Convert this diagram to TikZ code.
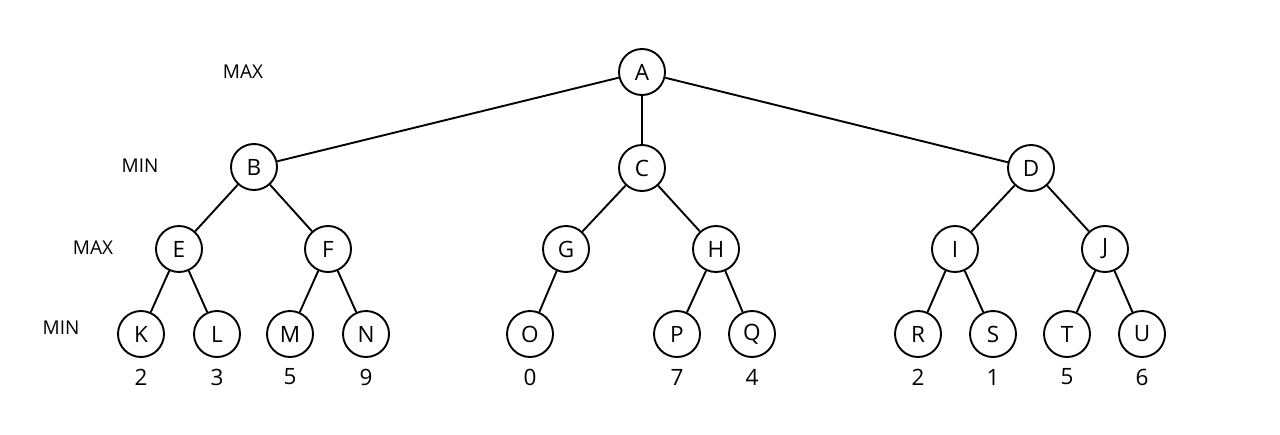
\documentclass[tikz,border=0pt]{standalone}
\usepackage{fontspec}
\setmainfont{Open Sans}
\begin{document}
\begin{tikzpicture}[x=1pt,y=-1pt,
  tn/.style={circle,draw,line width=1.9pt,minimum size=46pt,inner sep=0pt,font=\fontsize{22.5}{26}\selectfont},
  val/.style={font=\fontsize{22.5}{26}\selectfont},
  lvl/.style={font=\fontsize{19}{22}\selectfont},
  edge/.style={line width=1.9pt}]
\useasboundingbox (0,0) rectangle (1280,434);
\fill[white] (0,0) rectangle (1280,434);
\node[tn] (A) at (642,72) {A};
\node[tn] (B) at (254,167) {B};
\node[tn] (C) at (642,168) {C};
\node[tn] (D) at (1031,168) {D};
\node[tn] (E) at (179,249) {E};
\node[tn] (F) at (328,249) {F};
\node[tn] (G) at (566,249) {G};
\node[tn] (H) at (716,249) {H};
\node[tn] (I) at (955,249) {I};
\node[tn] (J) at (1105,249) {J};
\node[tn] (K) at (141,334) {K};
\node[tn] (L) at (217,334) {L};
\node[tn] (M) at (290,334) {M};
\node[tn] (N) at (366,334) {N};
\node[tn] (O) at (530,334) {O};
\node[tn] (P) at (677,334) {P};
\node[tn] (Q) at (752,334) {Q};
\node[tn] (R) at (918,334) {R};
\node[tn] (S) at (993,334) {S};
\node[tn] (T) at (1067,334) {T};
\node[tn] (U) at (1142,334) {U};
\foreach \a/\b in {A/B,A/C,A/D,B/E,B/F,C/G,C/H,D/I,D/J,E/K,E/L,F/M,F/N,G/O,H/P,H/Q,I/R,I/S,J/T,J/U}
  \draw[edge] (\a) -- (\b);
\foreach \n/\v in {K/2,L/3,M/5,N/9,O/0,P/7,Q/4,R/2,S/1,T/5,U/6}
  \node[val] (v\n) at ([yshift=-43pt]\n.center) {\v};
\node[lvl] (l1) at (243,72) {MAX};
\node[lvl] (l2) at (140,166) {MIN};
\node[lvl] (l3) at (93,248) {MAX};
\node[lvl] (l4) at (61,328) {MIN};
\end{tikzpicture}
\end{document}
